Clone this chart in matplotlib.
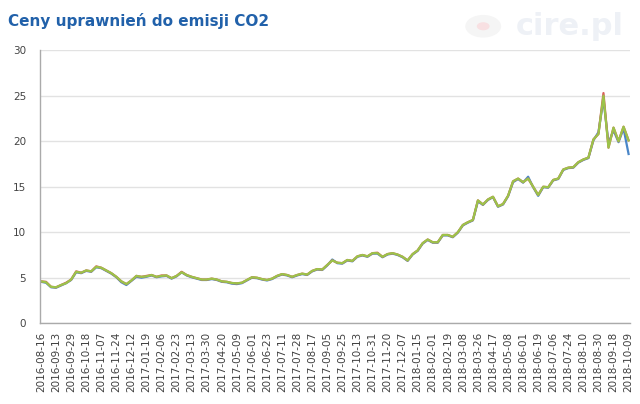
import matplotlib.pyplot as plt
from matplotlib.patches import Circle

# Category labels on the x axis (every 3rd data point)
tick_labels = [
    '2016-08-16', '2016-09-13', '2016-09-29', '2016-10-18', '2016-11-07', '2016-11-24',
    '2016-12-12', '2017-01-19', '2017-02-06', '2017-02-23', '2017-03-13', '2017-03-30',
    '2017-04-20', '2017-05-09', '2017-06-01', '2017-06-23', '2017-07-11', '2017-07-28',
    '2017-08-17', '2017-09-05', '2017-09-25', '2017-10-13', '2017-10-31', '2017-11-20',
    '2017-12-07', '2018-01-15', '2018-02-01', '2018-02-19', '2018-03-08', '2018-03-26',
    '2018-04-17', '2018-05-08', '2018-06-01', '2018-06-19', '2018-07-06', '2018-07-24',
    '2018-08-10', '2018-08-30', '2018-09-18', '2018-10-09',
]

# Price series (EUR/t)
green = [
    4.6, 4.5, 4.0, 3.95, 4.2, 4.4, 4.8, 5.65, 5.55, 5.8,
    5.7, 6.2, 6.1, 5.8, 5.5, 5.1, 4.6, 4.3, 4.7, 5.2,
    5.1, 5.15, 5.3, 5.1, 5.2, 5.25, 4.95, 5.2, 5.6, 5.3,
    5.1, 4.95, 4.8, 4.8, 4.9, 4.8, 4.6, 4.55, 4.42, 4.38,
    4.45, 4.75, 5.05, 5.0, 4.85, 4.75, 4.9, 5.2, 5.4, 5.3,
    5.1, 5.3, 5.45, 5.35, 5.75, 5.95, 5.9, 6.4, 6.9, 6.65,
    6.6, 6.95, 6.85, 7.35, 7.5, 7.35, 7.7, 7.7, 7.3, 7.6,
    7.7, 7.55, 7.3, 6.9, 7.6, 8.0, 8.8, 9.2, 8.9, 8.9,
    9.7, 9.7, 9.5, 10.0, 10.8, 11.1, 11.35, 13.5, 13.05, 13.6,
    13.9, 12.85, 13.1, 14.0, 15.6, 15.9, 15.5, 15.9, 15.0, 14.1,
    15.0, 14.95, 15.75, 15.9, 16.9, 17.1, 17.15, 17.7, 18.0, 18.2,
    20.2, 20.8, 25.0, 19.3, 21.5, 20.0, 21.6, 20.1,
]
blue = [
    4.55, 4.45, 3.95, 3.9, 4.15, 4.4, 4.75, 5.6, 5.5, 5.75,
    5.65, 6.15, 6.05, 5.75, 5.45, 5.05, 4.5, 4.2, 4.65, 5.1,
    5.0, 5.1, 5.25, 5.05, 5.15, 5.2, 4.9, 5.15, 5.6, 5.25,
    5.05, 4.9, 4.75, 4.75, 4.85, 4.75, 4.55, 4.5, 4.35, 4.3,
    4.4, 4.7, 5.0, 4.95, 4.8, 4.7, 4.85, 5.15, 5.35, 5.25,
    5.05, 5.25, 5.4, 5.3, 5.7, 5.9, 5.85, 6.35, 7.0, 6.6,
    6.55, 6.9, 6.8, 7.3, 7.45, 7.3, 7.65, 7.65, 7.25, 7.55,
    7.65, 7.5, 7.25, 6.85, 7.55, 7.95, 8.75, 9.15, 8.85, 8.85,
    9.65, 9.65, 9.45, 9.95, 10.75, 11.05, 11.3, 13.4, 13.0, 13.55,
    13.85, 12.8, 13.05, 13.95, 15.5, 15.85, 15.45, 16.1, 14.95, 14.0,
    14.95, 14.9, 15.7, 15.85, 16.85, 17.05, 17.1, 17.65, 17.95, 18.15,
    20.1, 21.0, 24.6, 19.8, 21.2, 19.9, 21.4, 18.6,
]
red = [
    4.6, 4.55, 4.0, 3.95, 4.2, 4.45, 4.8, 5.7, 5.55, 5.8,
    5.7, 6.25, 6.1, 5.8, 5.5, 5.1, 4.6, 4.3, 4.7, 5.2,
    5.1, 5.2, 5.3, 5.1, 5.25, 5.25, 4.95, 5.2, 5.65, 5.3,
    5.1, 4.95, 4.8, 4.8, 4.9, 4.8, 4.6, 4.55, 4.42, 4.38,
    4.45, 4.75, 5.05, 5.0, 4.85, 4.75, 4.9, 5.2, 5.4, 5.3,
    5.1, 5.3, 5.45, 5.35, 5.75, 5.95, 5.9, 6.4, 6.9, 6.65,
    6.6, 6.95, 6.85, 7.35, 7.5, 7.35, 7.7, 7.75, 7.3, 7.6,
    7.7, 7.55, 7.3, 6.9, 7.6, 8.0, 8.8, 9.2, 8.9, 8.9,
    9.7, 9.7, 9.5, 10.0, 10.8, 11.1, 11.35, 13.5, 13.05, 13.6,
    13.9, 12.85, 13.1, 14.0, 15.6, 15.9, 15.5, 15.9, 15.0, 14.1,
    15.0, 14.95, 15.75, 15.9, 16.9, 17.1, 17.15, 17.7, 18.0, 18.2,
    20.2, 20.8, 25.3, 19.3, 21.5, 20.0, 21.6, 20.1,
]

x = list(range(len(green)))

fig = plt.figure(figsize=(6.4, 4.04), dpi=100)
ax = fig.add_axes([0.0625, 0.2, 0.922, 0.6755])

ax.plot(x, blue, color='#4a86c8', lw=1.6)
ax.plot(x, red, color='#d9605a', lw=1.6)
ax.plot(x, green, color='#9cc34a', lw=1.6)

ax.set_ylim(0, 30)
ax.set_yticks(range(0, 31, 5))
ax.set_xlim(-0.2, len(green) - 0.7)
ax.set_xticks(x[::3])
ax.set_xticklabels(tick_labels, rotation=90, fontsize=7.5, color='#404040')
ax.tick_params(axis='y', labelsize=7.5, labelcolor='#444444', length=0, pad=10)
ax.tick_params(axis='x', length=0, pad=6)

ax.grid(axis='y', color='#e2e2e2', lw=1)
ax.set_axisbelow(True)
for side in ['top', 'right']:
    ax.spines[side].set_visible(False)
for side in ['left', 'bottom']:
    ax.spines[side].set_color('#aaaaaa')
    ax.spines[side].set_linewidth(1)

fig.text(0.012, 0.948, 'Ceny uprawnień do emisji CO2', fontsize=11, fontweight='bold',
         color='#2161aa', va='center', ha='left')

# faded watermark
fig.text(0.975, 0.935, 'cire.pl', fontsize=22, fontweight='bold', color='#eef1f6',
         ha='right', va='center', zorder=0)
fig.patches.append(Circle((0.755, 0.935), 0.028, transform=fig.transFigure,
                          facecolor='#f5f5f5', edgecolor='none', zorder=0))
fig.patches.append(Circle((0.755, 0.935), 0.01, transform=fig.transFigure,
                          facecolor='#f8e0e2', edgecolor='none', zorder=0))

fig.savefig('out.png', dpi=100)
